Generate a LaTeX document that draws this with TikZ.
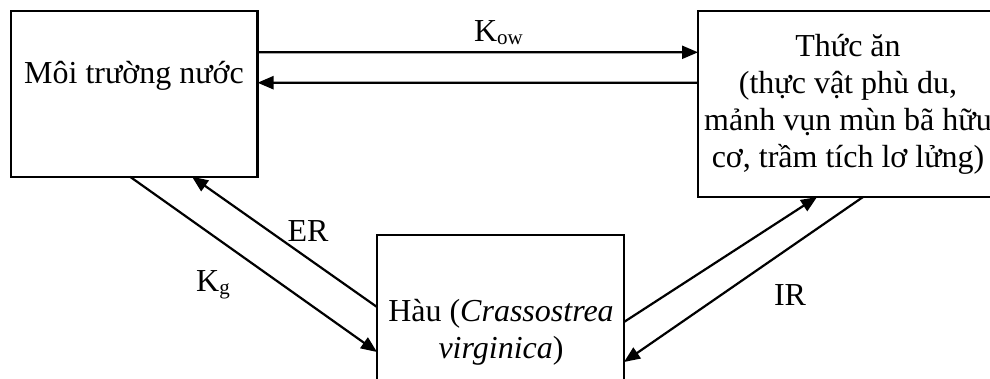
\documentclass[tikz,border=0pt]{standalone}
\usepackage{fontspec}
\setmainfont{Liberation Serif}
\usetikzlibrary{arrows.meta}
\begin{document}
\begin{tikzpicture}[x=1pt,y=-1pt,
  box/.style={draw,line width=2.2pt,rectangle,inner sep=0pt,outer sep=0pt},
  txt/.style={inner sep=0pt,outer sep=0pt,align=center,anchor=base,
    font=\fontsize{32pt}{37pt}\selectfont},
  flow/.style={line width=2.2pt,-{Triangle[length=16pt,width=13pt]}}]
\newcommand{\sbs}[1]{\raisebox{-2.5pt}{\fontsize{21pt}{21pt}\selectfont #1}}
\useasboundingbox (0,0) rectangle (990,378);

% compartments
\node[box,minimum width=246.5pt,minimum height=166pt] (water) at (134.25,93.7) {};
\node[box,minimum width=300pt,minimum height=186.3pt] (food) at (848,103.85) {};
\node[box,minimum width=247pt,minimum height=165pt] (oyster) at (500.5,317.5) {};

% compartment labels (base = baseline of the last line)
\node[txt] (waterlbl) at (134,83) {Môi trường nước};
\node[txt] (foodlbl) at (848,167) {Thức ăn\\(thực vật phù du,\\mảnh vụn mùn bã hữu\\cơ, trầm tích lơ lửng)};
\node[txt] (oysterlbl) at (501,358) {Hàu (\textit{Crassostrea}\\\textit{virginica})};

% exchange between water and food
\draw[flow] ([yshift=-41.6pt]water.north east) -- ([yshift=-41.6pt]food.north west);
\draw[flow] ([yshift=-72pt]food.north west) -- ([yshift=-72pt]water.north east);

% exchange between water and oyster
\draw[flow] ([xshift=119pt]water.south west) -- ([yshift=-117pt]oyster.north west);
\draw[flow] ([yshift=-72pt]oyster.north west) -- ([xshift=181pt]water.south west);

% exchange between food and oyster
\draw[flow] ([yshift=-87pt]oyster.north east) -- ([xshift=119pt]food.south west);
\draw[flow] ([xshift=165pt]food.south west) -- ([yshift=-127pt]oyster.north east);

% rate labels
\node[txt] (kow) at (498.5,41.7) {K\sbs{ow}};
\node[txt] (er) at (308,241.7) {ER};
\node[txt] (kg) at (213,291.7) {K\sbs{g}};
\node[txt] (ir) at (790,305) {IR};
\end{tikzpicture}
\end{document}
